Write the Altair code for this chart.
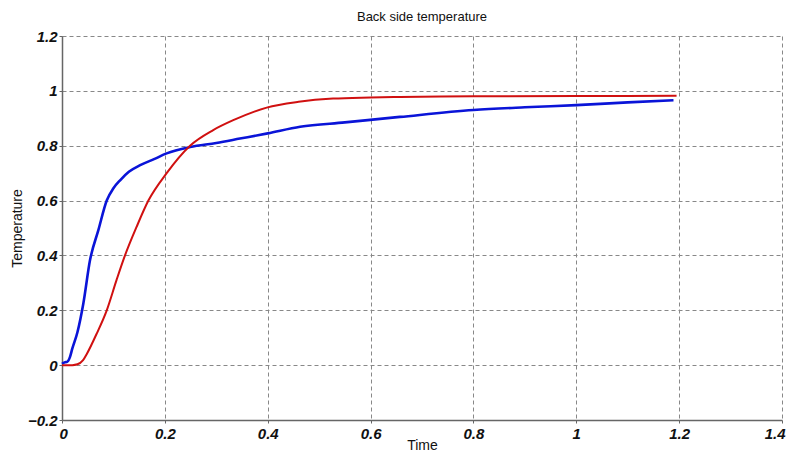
import altair as alt
import pandas as pd

# Red (smooth) curve
red_t = [0, 0.02, 0.03, 0.041, 0.048, 0.0675, 0.087, 0.106, 0.1225, 0.145, 0.168,
         0.2035, 0.249, 0.294, 0.333, 0.398, 0.46, 0.527, 0.6, 0.657, 0.8, 1.0, 1.195]
red_y = [0, 0, 0.003, 0.018, 0.04, 0.115, 0.2, 0.31, 0.4, 0.504, 0.6,
         0.70, 0.80, 0.857, 0.893, 0.939, 0.96, 0.972, 0.976, 0.978, 0.980, 0.981, 0.982]

# Blue (measured) curve
blue_t = [0, 0.005, 0.01, 0.0156, 0.02, 0.03, 0.0415, 0.0545, 0.0707, 0.087, 0.1,
          0.113, 0.13, 0.152, 0.18, 0.2035, 0.249, 0.3, 0.346, 0.4, 0.463, 0.55,
          0.657, 0.8, 0.9, 1.0, 1.1, 1.189]
blue_y = [0.005, 0.01, 0.012, 0.03, 0.06, 0.12, 0.225, 0.383, 0.492, 0.60, 0.645,
          0.674, 0.705, 0.729, 0.752, 0.772, 0.795, 0.81, 0.826, 0.845, 0.869, 0.885,
          0.905, 0.93, 0.94, 0.948, 0.958, 0.966]

x_ticks = [0, 0.2, 0.4, 0.6, 0.8, 1.0, 1.2, 1.4]
y_ticks = [-0.2, 0, 0.2, 0.4, 0.6, 0.8, 1.0, 1.2]

red_df = pd.DataFrame({"t": red_t, "y": red_y})
blue_df = pd.DataFrame({"t": blue_t, "y": blue_y})

FONT = "Liberation Sans"

x_enc = alt.X(
    "t:Q",
    scale=alt.Scale(domain=[0, 1.4], nice=False, zero=False),
    axis=alt.Axis(
        values=x_ticks, format="~g", title="Time",
        titleFont=FONT, titleFontSize=14, titleFontWeight="normal", titleColor="#111",
        titleY=29, titleBaseline="alphabetic",
        labelFont=FONT, labelFontSize=15, labelFontWeight="bold", labelFontStyle="italic",
        labelColor="#111", labelPadding=3, labelFlush=True, labelFlushOffset=3,
        tickSize=3, tickColor="#666", domainColor="#666", domainWidth=1.5,
        grid=True, gridColor="#888", gridDash=[4, 3], gridWidth=1,
    ),
)
y_enc = alt.Y(
    "y:Q",
    scale=alt.Scale(domain=[-0.2, 1.2], nice=False, zero=False),
    axis=alt.Axis(
        values=y_ticks, format="~g", title="Temperature",
        titleFont=FONT, titleFontSize=14, titleFontWeight="normal", titleColor="#111",
        titleX=-45, titleY=192, titleAngle=270, titleBaseline="middle", titleAlign="center",
        labelFont=FONT, labelFontSize=15, labelFontWeight="bold", labelFontStyle="italic",
        labelColor="#111", labelPadding=2, labelFlush=False,
        tickSize=3, tickColor="#666", domainColor="#666", domainWidth=1.5,
        grid=True, gridColor="#888", gridDash=[4, 3], gridWidth=1,
    ),
)

red = alt.Chart(red_df).mark_line(color="#d01010", strokeWidth=2, interpolate="monotone").encode(
    x=x_enc, y=y_enc
)
blue = alt.Chart(blue_df).mark_line(color="#0a14d8", strokeWidth=2.6, interpolate="monotone").encode(
    x="t:Q", y="y:Q"
)

chart = (
    alt.layer(blue, red)
    .properties(
        width=720, height=384,
        title=alt.TitleParams("Back side temperature", font=FONT, fontSize=13,
                              fontWeight="normal", color="#111", anchor="middle", offset=5),
        autosize=alt.AutoSizeParams(type="none"),
        padding={"left": 54, "top": 28, "right": 4, "bottom": 32},
    )
    .configure_view(stroke=None)
)

chart.save("out.html", embed_options={"renderer": "svg", "actions": False})
